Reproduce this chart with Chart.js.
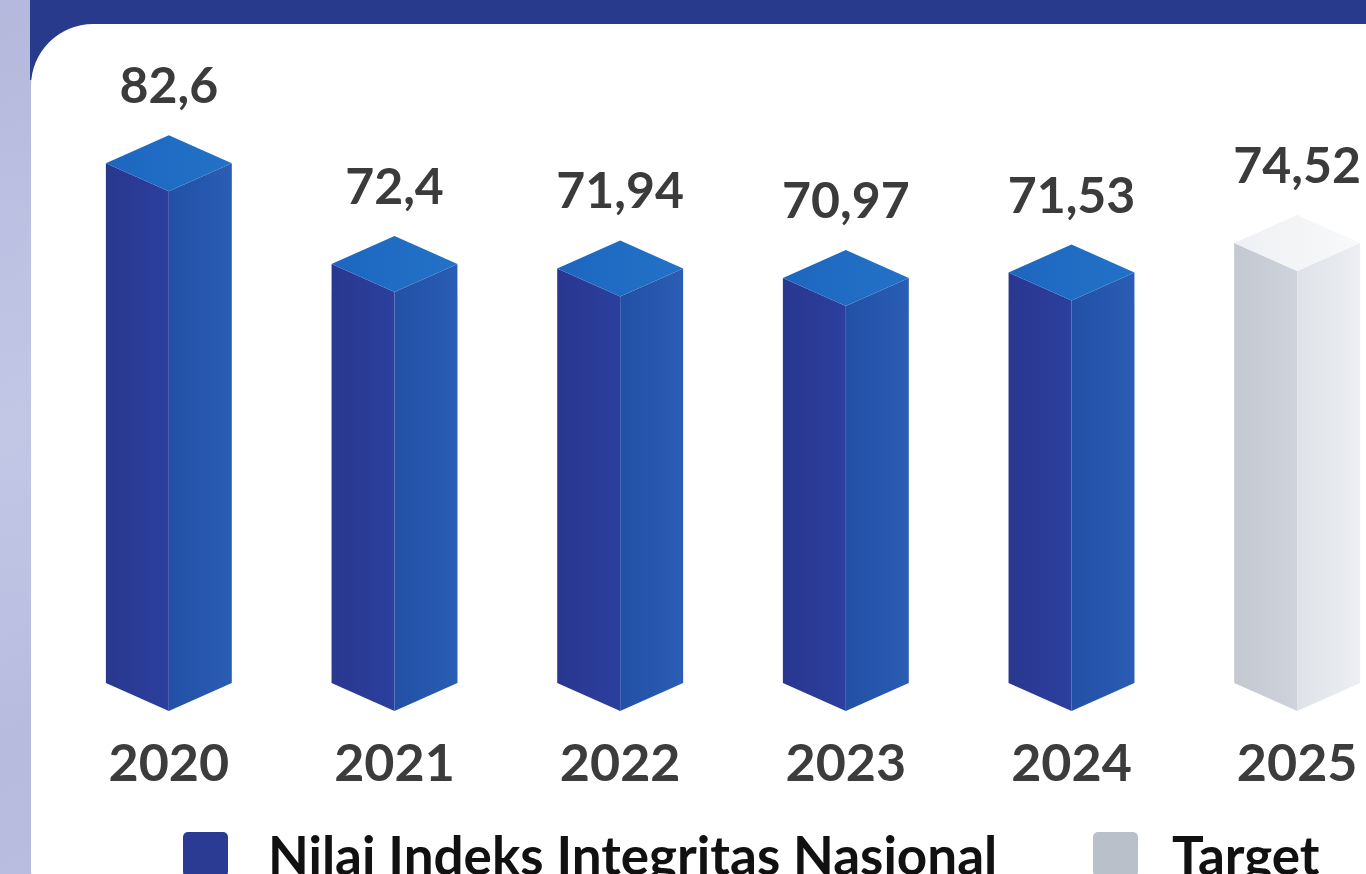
<!DOCTYPE html>
<html>
<head>
<meta charset="utf-8">
<script src="https://cdn.jsdelivr.net/npm/chart.js@4.4.0/dist/chart.umd.min.js"></script>
<style>
  html, body { margin: 0; padding: 0; }
  body {
    width: 1366px; height: 874px; overflow: hidden; position: relative;
    background: linear-gradient(165deg, #b4b9dd 0%, #c3c7e6 35%, #b7bcdf 60%, #bdc1e2 100%);
    font-family: Lato, "Noto Sans", sans-serif;
  }
  #band { position: absolute; left: 30px; top: 0; right: 0; height: 80px; background: #283a8c; }
  #card { position: absolute; left: 31px; top: 24px; width: 1400px; height: 880px; background: #ffffff; border-radius: 62px 0 0 34px; }
  #wrap { position: absolute; left: 0; top: 0; width: 1410px; height: 874px; }
  .lg-box { position: absolute; top: 832px; width: 45px; height: 45px; border-radius: 5px; }
  .lg-text { position: absolute; top: 828px; font: bold 53px/53px Lato, sans-serif; color: #111111; white-space: nowrap; }
</style>
</head>
<body>
<div id="band"></div>
<div id="card"></div>
<div id="wrap"><canvas id="chart" width="1410" height="874"></canvas></div>
<div class="lg-box" style="left:183px; background:#2b3a92;"></div>
<div class="lg-text" style="left:268px;">Nilai Indeks Integritas Nasional</div>
<div class="lg-box" style="left:1093px; background:#b9c0c9;"></div>
<div class="lg-text" style="left:1172px;">Target</div>
<script>
// --- Data ---
const years = ["2020", "2021", "2022", "2023", "2024", "2025"];
const values = [82.6, 72.4, 71.94, 70.97, 71.53, 74.52];
const isTarget = [false, false, false, false, false, true];
const Y_MIN = 30;
const Y_MAX = 90;

// face colours: [left, right, top]
const blueFaces = [["#29378f", "#2c3f9e"], ["#2250a6", "#2a5db4"], ["#1d66bf", "#2372c8"]];
const grayFaces = [["#c3c8d1", "#cfd3db"], ["#dfe2e8", "#eceef2"], ["#eef0f3", "#f8f9fa"]];
const DEPTH = 28;

function fmt(v) { return String(v).replace(".", ","); }

function grad(ctx, x0, x1, pair) {
  const g = ctx.createLinearGradient(x0, 0, x1, 0);
  g.addColorStop(0, pair[0]);
  g.addColorStop(1, pair[1]);
  return g;
}

// --- 3D prism bars + value labels ---
const prismPlugin = {
  id: "prism",
  afterDatasetsDraw(chart) {
    const ctx = chart.ctx;
    const meta = chart.getDatasetMeta(0);
    meta.data.forEach((bar, i) => {
      const x = bar.x, y = bar.y, base = bar.base, h = bar.width / 2;
      const faces = isTarget[i] ? grayFaces : blueFaces;
      ctx.save();
      // left face
      ctx.beginPath();
      ctx.moveTo(x - h, y); ctx.lineTo(x, y + DEPTH);
      ctx.lineTo(x, base + DEPTH); ctx.lineTo(x - h, base);
      ctx.closePath();
      ctx.fillStyle = grad(ctx, x - h, x, faces[0]);
      ctx.fill();
      // right face
      ctx.beginPath();
      ctx.moveTo(x, y + DEPTH); ctx.lineTo(x + h, y);
      ctx.lineTo(x + h, base); ctx.lineTo(x, base + DEPTH);
      ctx.closePath();
      ctx.fillStyle = grad(ctx, x, x + h, faces[1]);
      ctx.fill();
      // top
      ctx.beginPath();
      ctx.moveTo(x, y - DEPTH); ctx.lineTo(x + h, y);
      ctx.lineTo(x, y + DEPTH); ctx.lineTo(x - h, y);
      ctx.closePath();
      ctx.fillStyle = grad(ctx, x - h, x + h, faces[2]);
      ctx.fill();
      // value label
      ctx.font = "bold 50px Lato";
      ctx.fillStyle = "#3b3b3b";
      ctx.textAlign = "center";
      ctx.textBaseline = "alphabetic";
      ctx.fillText(fmt(values[i]), x, y - DEPTH - 32);
      ctx.restore();
    });
  }
};

function draw() {
  new Chart(document.getElementById("chart"), {
    type: "bar",
    data: {
      labels: years,
      datasets: [{
        label: "Nilai Indeks Integritas Nasional",
        data: values,
        base: Y_MIN,
        backgroundColor: "rgba(0,0,0,0)",
        borderWidth: 0,
        categoryPercentage: 1,
        barPercentage: 0.558
      }]
    },
    options: {
      responsive: false,
      animation: false,
      devicePixelRatio: 1,
      layout: { padding: { top: 90, left: 56, right: 0, bottom: 0 } },
      plugins: { legend: { display: false }, tooltip: { enabled: false } },
      scales: {
        y: { display: false, min: Y_MIN, max: Y_MAX },
        x: {
          grid: { display: false, drawTicks: false },
          border: { display: false },
          ticks: { color: "#3c3c3c", font: { family: "Lato", size: 52, weight: "bold" }, padding: 50 },
          afterFit(scale) { scale.height = 191; }
        }
      }
    },
    plugins: [prismPlugin]
  });
}

if (document.fonts && document.fonts.load) {
  document.fonts.load("bold 50px Lato").then(draw, draw);
} else {
  draw();
}
</script>
</body>
</html>
